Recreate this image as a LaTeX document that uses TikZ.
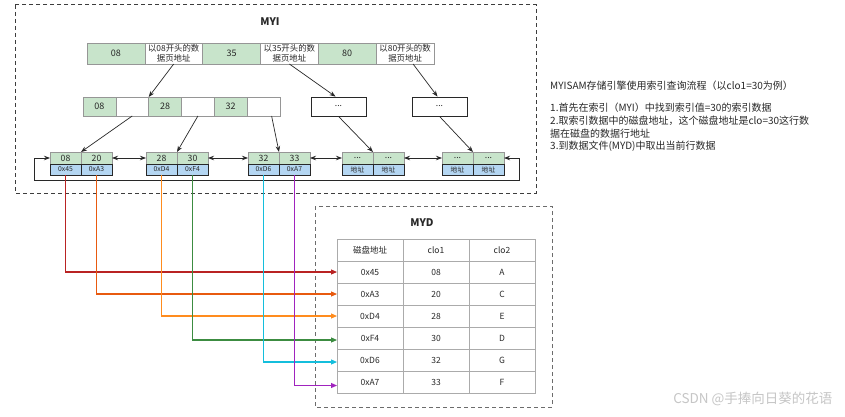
\documentclass[tikz,border=0pt]{standalone}
\usepackage{fontspec}
\setmainfont{Noto Sans CJK SC}
\usetikzlibrary{arrows.meta,calc}
\definecolor{gfill}{RGB}{200,228,203}
\definecolor{bfill}{RGB}{180,214,242}
\definecolor{cborder}{RGB}{150,150,150}
\definecolor{dark}{RGB}{40,40,40}
\definecolor{cred}{RGB}{185,35,35}
\definecolor{corg}{RGB}{232,90,15}
\definecolor{cora}{RGB}{255,140,30}
\definecolor{cgrn}{RGB}{60,140,65}
\definecolor{ccyn}{RGB}{20,190,220}
\definecolor{cpur}{RGB}{160,35,190}
\newcommand\leafdots{...}
\tikzset{
  cell/.style={draw=cborder, line width=0.6pt, inner sep=0pt, outer sep=0pt, text=dark, align=center},
  topg/.style={cell, fill=gfill, minimum width=57.8pt, minimum height=21pt, font=\fontsize{9}{10}\selectfont},
  topw/.style={cell, fill=white, minimum width=57.8pt, minimum height=21pt, font=\fontsize{8.4}{10.3}\selectfont},
  midg/.style={cell, fill=gfill, minimum width=32.8pt, minimum height=19pt, font=\fontsize{9}{10}\selectfont},
  midw/.style={cell, fill=white, minimum width=32.8pt, minimum height=19pt},
  dotbox/.style={draw=dark, line width=0.8pt, fill=white, minimum width=55pt, minimum height=19pt, inner sep=0pt, text=dark, font=\fontsize{8.5}{10}\selectfont},
  leafg/.style={cell, fill=gfill, minimum width=31pt, minimum height=12pt, font=\fontsize{8.7}{9}\selectfont},
  leafb/.style={draw=dark, line width=0.7pt, fill=bfill, inner sep=0pt, outer sep=0pt, minimum width=31pt, minimum height=11pt, text=dark, font=\fontsize{6.8}{7}\selectfont},
  tcell/.style={draw=cborder!80, line width=0.6pt, inner sep=0pt, outer sep=0pt, minimum width=66pt, minimum height=22pt, text=dark, font=\fontsize{8.5}{9}\selectfont},
  treearrow/.style={draw=dark, line width=0.7pt, -{Stealth[length=6pt,width=4.5pt]}},
  linkarrow/.style={draw=dark, line width=0.8pt, {Stealth[length=6pt,width=4.5pt]}-{Stealth[length=6pt,width=4.5pt]}},
  ptr/.style={line width=1.1pt, -{Triangle[length=6pt,width=5pt]}},
  dbox/.style={dashed, dash pattern=on 4pt off 3pt, line width=1pt},
}
\begin{document}
\begin{tikzpicture}[x=1pt,y=-1pt]
\path[use as bounding box, fill=white] (0,0) rectangle (845,417);

% containers
\draw[dbox, draw=dark!90] (15,5) rectangle (536,193);
\node[font=\bfseries\fontsize{10.5}{12}\selectfont, text=dark] (myi) at (270,22) {MYI};
\draw[dbox, draw=gray!85!black] (315,206) rectangle (552,407);
\node[font=\bfseries\fontsize{10.5}{12}\selectfont, text=dark] (myd) at (422,223) {MYD};

% top level
\node[topg] (t1) at (115.9,53.5) {08};
\node[topw] (t2) at (173.7,53.5) {以08开头的数\\据页地址};
\node[topg] (t3) at (231.6,53.5) {35};
\node[topw] (t4) at (289.4,53.5) {以35开头的数\\据页地址};
\node[topg] (t5) at (347.2,53.5) {80};
\node[topw] (t6) at (405.1,53.5) {以80开头的数\\据页地址};

% second level
\node[midg] (s1) at (99.4,106.5) {08};
\node[midw] (s2) at (132.2,106.5) {};
\node[midg] (s3) at (165.1,106.5) {28};
\node[midw] (s4) at (197.9,106.5) {};
\node[midg] (s5) at (230.7,106.5) {32};
\node[midw] (s6) at (263.6,106.5) {};
\node[dotbox] (d1) at (338.5,106.5) {...};
\node[dotbox] (d2) at (439.5,106.5) {...};

% leaves
\foreach \i/\x/\a/\b/\c/\d in {1/50/08/20/0x45/0xA3, 2/146/28/30/0xD4/0xF4, 3/248/32/33/0xD6/0xA7, 4/342/\leafdots/\leafdots/地址/地址, 5/442/\leafdots/\leafdots/地址/地址}{
  \node[leafg] (l\i a) at (\x+15.5,158) {\a};
  \node[leafg] (l\i b) at (\x+46.5,158) {\b};
  \node[leafb] (b\i a) at (\x+15.5,169.5) {\c};
  \node[leafb] (b\i b) at (\x+46.5,169.5) {\d};
}

% tree arrows
\draw[treearrow] (t2.south) -- (s3.north west);
\draw[treearrow] (t4.south) -- ($(d1.north)+(-3,0)$);
\draw[treearrow] ($(t6.south)+(8,0)$) -- ($(d2.north)+(-2,0)$);
\draw[treearrow] (s2.south) -- (l1a.north east);
\draw[treearrow] (s4.south) -- (l2a.north east);
\draw[treearrow] ($(s6.south)+(8,0)$) -- (l3a.north east);
\draw[treearrow] (d1.south) -- (l4a.north east);
\draw[treearrow] (d2.south) -- (l5a.north east);

% leaf links
\draw[linkarrow] (l1b.east) -- (l2a.west);
\draw[linkarrow] (l2b.east) -- (l3a.west);
\draw[linkarrow] (l3b.east) -- (l4a.west);
\draw[linkarrow] (l4b.east) -- (l5a.west);
\coordinate (loopL) at (34,180);
\coordinate (loopR) at (519,158);
\draw[linkarrow] (l1a.west) -| (loopL) -| (loopR) -- (l5b.east);

% MYD table
\foreach \r/\p/\q/\s in {0/磁盘地址/clo1/clo2, 1/0x45/08/A, 2/0xA3/20/C, 3/0xD4/28/E, 4/0xF4/30/D, 5/0xD6/32/G, 6/0xA7/33/F}{
  \node[tcell] (m\r a) at (370,250+22*\r) {\p};
  \node[tcell] (m\r b) at (436,250+22*\r) {\q};
  \node[tcell] (m\r c) at (502,250+22*\r) {\s};
}

% pointers
\draw[ptr, color=cred] (b1a.south) |- (m1a.west);
\draw[ptr, color=corg] (b1b.south) |- (m2a.west);
\draw[ptr, color=cora] (b2a.south) |- (m3a.west);
\draw[ptr, color=cgrn] (b2b.south) |- ($(m4a.west)+(0,2)$);
\draw[ptr, color=ccyn] (b3a.south) |- ($(m5a.west)+(0,2)$);
\draw[ptr, color=cpur] (b3b.south) |- ($(m6a.west)+(0,3.5)$);

% description
\node[anchor=west, inner sep=0pt, text=dark, font=\fontsize{10}{12}\selectfont] (title) at (550,86) {MYISAM存储引擎使用索引查询流程（以clo1=30为例）};
\node[anchor=north west, align=left, text=dark, inner sep=0pt, font=\fontsize{10}{12.7}\selectfont] (desc) at (550,103) {1.首先在索引（MYI）中找到索引值=30的索引数据\\2.取索引数据中的磁盘地址，这个磁盘地址是clo=30这行数\\据在磁盘的数据行地址\\3.到数据文件(MYD)中取出当前行数据};

% watermark
\node[anchor=east, text=gray!45, font=\fontsize{13.5}{14}\selectfont] (wm) at (836,399) {CSDN @手捧向日葵的花语};
\end{tikzpicture}
\end{document}
